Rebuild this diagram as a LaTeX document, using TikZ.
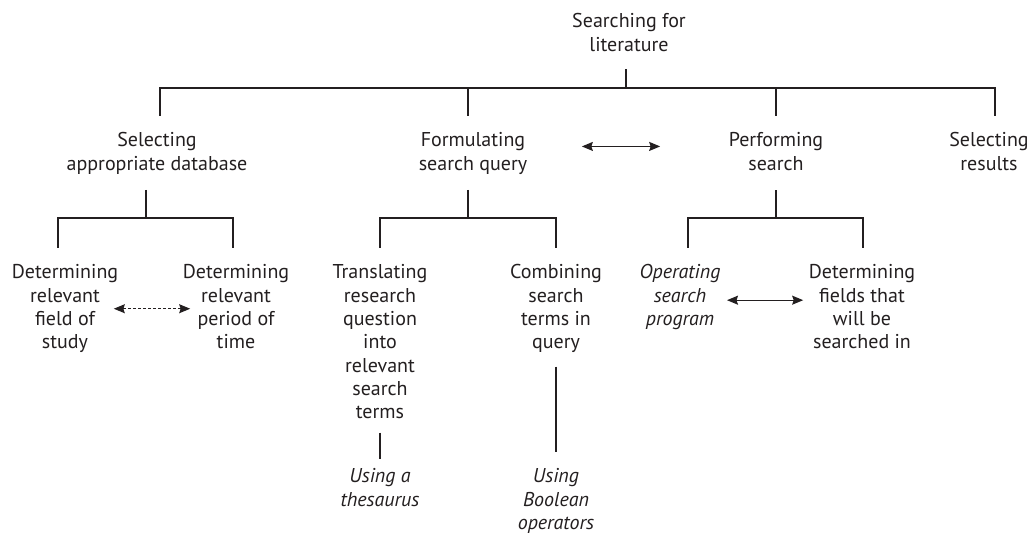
\documentclass[tikz,border=0pt]{standalone}
\usepackage{fontspec}
\setmainfont{PT Sans}
\usetikzlibrary{positioning}
\usetikzlibrary{arrows.meta}
\definecolor{ink}{HTML}{231F20}

\begin{document}
\begin{tikzpicture}[
        x=1pt, y=-1pt,
        >={Stealth[length=11pt,width=9pt,inset=1.5pt]},
        line width=1.3pt, draw=ink,
        txt/.style={align=center, inner sep=0pt, anchor=north, text=ink,
            font=\fontsize{20}{23.3}\selectfont},
        itxt/.style={txt, font=\fontsize{20}{23.3}\selectfont\itshape}
    ]
        \useasboundingbox (0,0) rectangle (1029,535);

        % top level
        \node [txt] (root) at (629,13) {Searching for\\literature};
        \coordinate (rb) at (626,88);

        \node [txt] (sel)  at (157,132) {Selecting\\appropriate database};
        \node [txt] (form) at (473,132) {Formulating\\search query};
        \node [txt] (perf) at (776,132) {Performing\\search};
        \node [txt] (res)  at (989,132) {Selecting\\results};

        \draw [shorten <=17pt] (rb |- root.south) -- (rb);
        \draw [shorten >=16pt] (rb) -| ([xshift=3pt]sel.north);
        \draw [shorten >=16pt] (rb) -| ([xshift=-5pt]form.north);
        \draw [shorten >=16pt] (rb) -| (perf.north);
        \draw [shorten >=16pt] (rb) -| ([xshift=6pt]res.north);

        \draw [<->, shorten <=54pt, shorten >=68pt] ([yshift=7pt]form.east) -- ([yshift=7pt]form.east -| perf.west);

        % second level
        \coordinate (sb1) at (146,218);
        \coordinate (sb2) at (468,218);
        \coordinate (sb3) at (776,218);

        \node [txt]  (field)  at (65,264)  {Determining\\relevant\\field of\\study};
        \node [txt]  (period) at (236,264) {Determining\\relevant\\period of\\time};
        \node [txt]  (transl) at (380,264) {Translating\\research\\question\\into\\relevant\\search\\terms};
        \node [txt]  (comb)   at (556,264) {Combining\\search\\terms in\\query};
        \node [itxt] (oper)   at (680,264) {Operating\\search\\program};
        \node [txt]  (fields) at (862,264) {Determining\\fields that\\will be\\searched in};

        \draw [shorten <=15pt] (sb1 |- sel.south) -- (sb1);
        \draw [shorten <=15pt] (sb2 |- form.south) -- (sb2);
        \draw [shorten <=19pt] (sb3 |- perf.south) -- (sb3);

        \draw [shorten >=16pt] (sb1) -| ([xshift=-7pt]field.north);
        \draw [shorten >=16pt] (sb1) -| ([xshift=-3pt]period.north);
        \draw [shorten >=16pt] (sb2) -| (transl.north);
        \draw [shorten >=16pt] (sb2) -| (comb.north);
        \draw [shorten >=16pt] (sb3) -| ([xshift=8pt]oper.north);
        \draw [shorten >=16pt] (sb3) -| ([xshift=1pt]fields.north);

        \draw [<->, dash pattern=on 3pt off 2pt, line width=1.1pt, shorten <=-5pt, shorten >=-8pt] (field.east) -- (field.east -| period.west);
        \draw [<->, shorten <=6pt, shorten >=5pt] ([yshift=-3pt]oper.east) -- ([yshift=-3pt]oper.east -| fields.west);

        % third level
        \node [itxt] (thes) at (380,468) {Using a\\thesaurus};
        \node [itxt] (bool) at (556,468) {Using\\Boolean\\operators};

        \draw [shorten <=13pt, shorten >=9pt] (transl) -- (thes);
        \draw [shorten <=13pt, shorten >=16pt] (comb) -- (bool);

    \end{tikzpicture}
\end{document}
